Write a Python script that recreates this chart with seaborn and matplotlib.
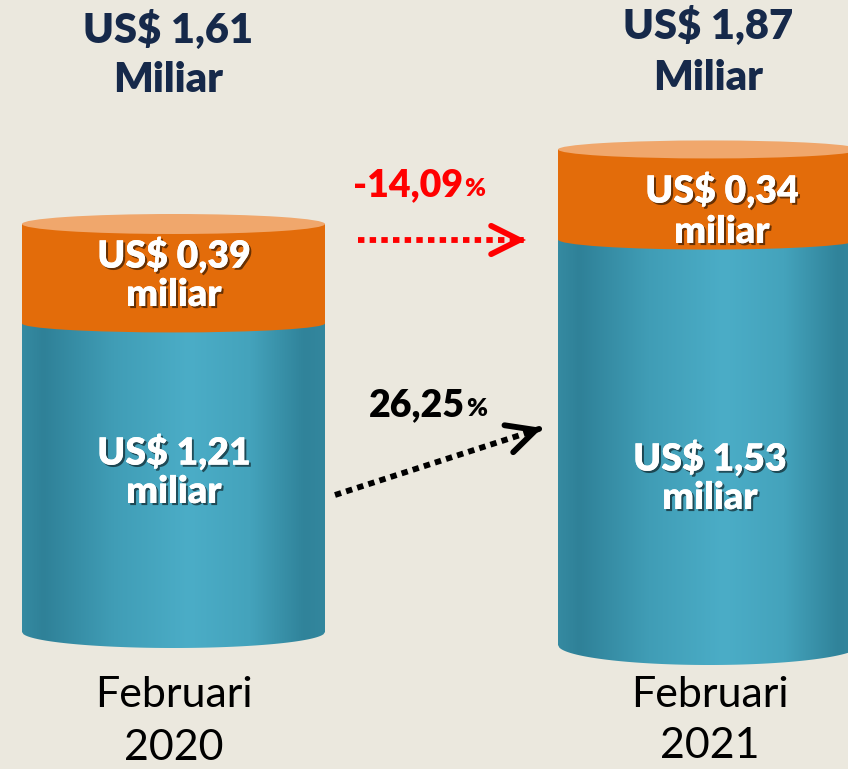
import numpy as np
import pandas as pd
import matplotlib
matplotlib.use("Agg")
import matplotlib.pyplot as plt
import seaborn as sns
from matplotlib.path import Path
from matplotlib.patches import PathPatch, Ellipse
from matplotlib.colors import LinearSegmentedColormap
import matplotlib.patheffects as pe

# ---------------- data ----------------
periods = ["Februari\n2020", "Februari\n2021"]
non_migas = [1.21, 1.53]          # teal (lower) segment, US$ billion
migas = [0.39, 0.34]              # orange (upper) segment, US$ billion
total_labels = ["US$ 1,61", "US$ 1,87"]
non_migas_labels = ["US$ 1,21", "US$ 1,53"]
migas_labels = ["US$ 0,39", "US$ 0,34"]
unit_total = "Miliar"
unit_segment = "miliar"
change_migas = "-14,09"
change_non_migas = "26,25"

# ---------------- style ----------------
W, H = 848, 769
BG = "#EBE8DE"
NAVY = "#16294A"
ORANGE = "#E36C0A"
ORANGE_TOP = "#F0A76C"
HEAVY = "heavy"
teal_cmap = LinearSegmentedColormap.from_list(
    "teal", [(0.0, "#358AA1"), (0.07, "#2F8198"), (0.3, "#409DB6"),
             (0.55, "#4BADC7"), (0.75, "#44A3BC"), (0.93, "#30839A"),
             (1.0, "#33879E")])

sns.set_theme(style="white")
plt.rcParams["font.family"] = ["Lato", "DejaVu Sans"]

fig = plt.figure(figsize=(W / 100, H / 100), dpi=100, facecolor=BG)

# cylinder layout in pixels: left, right, baseline y, px per unit,
# bottom ellipse half-height, boundary half-height, top half-height
layout = [
    dict(left=22, right=325, base=632, scale=255, eb=16, em=9, et=10),
    dict(left=558, right=860, base=645, scale=265, eb=20, em=10, et=9),
]

for i, lay in enumerate(layout):
    ax = fig.add_axes([lay["left"] / W, 0, (lay["right"] - lay["left"]) / W, 1])
    ax.set_facecolor("none")
    sc = lay["scale"]
    df = pd.DataFrame({"period": [periods[i]],
                       "total": [non_migas[i] + migas[i]],
                       "non_migas": [non_migas[i]]})
    sns.barplot(data=df, x="period", y="total", color=ORANGE, saturation=1,
                width=1, ax=ax, linewidth=0, zorder=1)
    sns.barplot(data=df, x="period", y="non_migas", color=teal_cmap(0.5),
                saturation=1, width=1, ax=ax, linewidth=0, zorder=2)
    ax.set_xlim(-0.5, 0.5)
    ax.set_ylim((lay["base"] - H) / sc, lay["base"] / sc)
    ax.axis("off")

    bars = ax.patches
    tot_bar, nm_bar = bars[0], bars[1]
    x0 = nm_bar.get_x()
    w = nm_bar.get_width()
    x1 = x0 + w
    xc = x0 + w / 2
    h_nm = nm_bar.get_height()
    h_tot = tot_bar.get_height()
    eb = lay["eb"] / sc
    em = lay["em"] / sc
    et = lay["et"] / sc

    # teal body with bottom half-ellipse, horizontal gradient
    xs = np.linspace(x0, x1, 200)
    ys = -eb * np.sqrt(np.clip(1 - ((xs - xc) / (w / 2)) ** 2, 0, 1))
    verts = [(x0, h_nm)] + list(zip(xs, ys)) + [(x1, h_nm), (x0, h_nm)]
    codes = [Path.MOVETO] + [Path.LINETO] * (len(verts) - 2) + [Path.CLOSEPOLY]
    clip = PathPatch(Path(verts, codes), facecolor="none", edgecolor="none",
                     transform=ax.transData)
    ax.add_patch(clip)
    grad = np.linspace(0, 1, 256)[None, :]
    im = ax.imshow(grad, cmap=teal_cmap, aspect="auto",
                   extent=[x0, x1, -eb * 1.05, h_nm], zorder=3,
                   interpolation="bilinear")
    im.set_clip_path(clip)

    # orange lower rim over teal
    ax.add_patch(Ellipse((xc, h_nm), w, 2 * em, facecolor=ORANGE,
                         edgecolor="none", zorder=4))
    ax.add_patch(plt.Rectangle((x0, h_nm), w, h_tot - h_nm, facecolor=ORANGE,
                               edgecolor="none", zorder=4))
    # top face
    ax.add_patch(Ellipse((xc, h_tot), w, 2 * et, facecolor=ORANGE_TOP,
                         edgecolor="none", zorder=5))

# ---------------- overlay for text and arrows ----------------
ov = fig.add_axes([0, 0, 1, 1])
ov.set_xlim(0, W)
ov.set_ylim(H, 0)
ov.axis("off")
ov.set_facecolor("none")

shadow = [pe.withSimplePatchShadow(offset=(1.5, -1.5), shadow_rgbFace="black",
                                   alpha=0.55), pe.Normal()]

title_x = [168, 708]
title_y = [(30, 80), (26, 78)]
top_lbl = [(174, 255, 295), (722, 190, 232)]
low_lbl = [(174, 452, 492), (710, 458, 498)]
per_lbl = [(174, 695, 748), (710, 695, 746)]

for i in range(2):
    ov.text(title_x[i], title_y[i][0], total_labels[i], ha="center", va="center",
            fontsize=30, fontweight=HEAVY, color=NAVY)
    ov.text(title_x[i], title_y[i][1], unit_total, ha="center", va="center",
            fontsize=30, fontweight=HEAVY, color=NAVY)
    x, y1, y2 = top_lbl[i]
    ov.text(x, y1, migas_labels[i], ha="center", va="center", fontsize=27,
            fontweight=HEAVY, color="white", path_effects=shadow, zorder=10)
    ov.text(x, y2, unit_segment, ha="center", va="center", fontsize=27,
            fontweight=HEAVY, color="white", path_effects=shadow, zorder=10)
    x, y1, y2 = low_lbl[i]
    ov.text(x, y1, non_migas_labels[i], ha="center", va="center", fontsize=27,
            fontweight=HEAVY, color="white", path_effects=shadow, zorder=10)
    ov.text(x, y2, unit_segment, ha="center", va="center", fontsize=27,
            fontweight=HEAVY, color="white", path_effects=shadow, zorder=10)
    x, y1, y2 = per_lbl[i]
    line1, line2 = periods[i].split("\n")
    ov.text(x, y1, line1, ha="center", va="center", fontsize=31, color="black")
    ov.text(x, y2, line2, ha="center", va="center", fontsize=31, color="black")

# percentage changes
ov.text(463, 185, change_migas, ha="right", va="center", fontsize=27,
        fontweight=HEAVY, color="#FF0000")
ov.text(464, 189, "%", ha="left", va="center", fontsize=18,
        fontweight=HEAVY, color="#FF0000")
ov.text(465, 405, change_non_migas, ha="right", va="center", fontsize=27,
        fontweight=HEAVY, color="black")
ov.text(466, 409, "%", ha="left", va="center", fontsize=18,
        fontweight=HEAVY, color="black")


def dotted_arrow(p0, p1, color):
    p0 = np.array(p0, float)
    p1 = np.array(p1, float)
    d = (p1 - p0) / np.linalg.norm(p1 - p0)
    pend = p1 - d * 12
    ov.plot([p0[0], pend[0]], [p0[1], pend[1]], color=color, lw=4.2,
            linestyle=(0, (1.1, 0.9)), dash_capstyle="butt", zorder=8)
    ov.annotate("", xy=tuple(p1), xytext=tuple(p1 - d * 3),
                arrowprops=dict(arrowstyle="->,head_length=1.7,head_width=0.85",
                                color=color, lw=4.2, capstyle="round",
                                joinstyle="miter", shrinkA=0, shrinkB=0),
                zorder=8)


dotted_arrow((358, 240), (526, 240), "#FF0000")
dotted_arrow((335, 495), (542, 428), "black")

fig.savefig("out.png", dpi=100, facecolor=BG)
